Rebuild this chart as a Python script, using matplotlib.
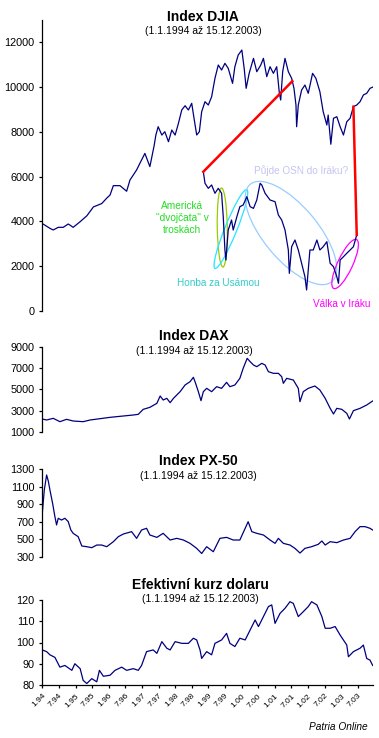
import numpy as np
import matplotlib
matplotlib.use('Agg')
import matplotlib.pyplot as plt
from matplotlib.patches import Ellipse
from matplotlib.transforms import ScaledTranslation

plt.rcParams['font.family'] = ['Liberation Sans', 'DejaVu Sans']

# ---------------- data (decimal years) ----------------
djia_t = [1994.00, 1994.04, 1994.23, 1994.33, 1994.48, 1994.63, 1994.78, 1994.83, 1994.93, 1995.14,
          1995.34, 1995.54, 1995.79, 1995.94, 1996.04, 1996.14, 1996.34, 1996.54, 1996.64, 1996.84,
          1996.94, 1997.09, 1997.24, 1997.37, 1997.42, 1997.49, 1997.60, 1997.69, 1997.80, 1997.90,
          1998.00, 1998.10, 1998.20, 1998.30, 1998.40, 1998.50, 1998.57, 1998.65, 1998.73, 1998.80,
          1998.90, 1999.00, 1999.10, 1999.20, 1999.30, 1999.40, 1999.50, 1999.60, 1999.73, 1999.80,
          1999.90, 2000.01, 2000.08, 2000.14, 2000.23, 2000.36, 2000.46, 2000.58, 2000.66, 2000.76,
          2000.86, 2000.96, 2001.06, 2001.14, 2001.18, 2001.24, 2001.31, 2001.41, 2001.51, 2001.58,
          2001.64, 2001.66, 2001.71, 2001.81, 2001.91, 2002.01, 2002.14, 2002.24, 2002.36, 2002.46,
          2002.57, 2002.61, 2002.69, 2002.77, 2002.87, 2002.97, 2003.07, 2003.17, 2003.27, 2003.37,
          2003.47, 2003.57, 2003.67, 2003.77, 2003.87, 2003.95]
djia_v = [3900, 3870, 3693, 3620, 3738, 3738, 3886, 3840, 3738, 3990,
          4250, 4650, 4800, 5040, 5180, 5600, 5600, 5350, 5850, 6300,
          6600, 7040, 6450, 7400, 7860, 8233, 7860, 8010, 7563, 8085,
          7860, 8384, 8979, 9171, 8979, 9278, 8608, 7862, 8010, 8903,
          9350, 9202, 9573, 10394, 10989, 10766, 11064, 10841, 10171, 10913,
          11435, 11659, 10841, 9948, 10617, 11287, 10691, 10989, 11287, 10469,
          10913, 10617, 10913, 9725, 9425, 10691, 11287, 10691, 10394, 9948,
          9202, 8233, 9202, 9872, 10095, 9725, 10617, 10394, 9796, 8903,
          8309, 8755, 7450, 8608, 8680, 8233, 7862, 8456, 8608, 9127,
          9202, 9350, 9650, 9725, 9948, 10000]

# magnified DJIA detail drawn inside the DJIA panel (axis units)
inset_t = [1998.85, 1998.90, 1999.00, 1999.10, 1999.20, 1999.30, 1999.40, 1999.45, 1999.50, 1999.53,
           1999.60, 1999.70, 1999.75, 1999.86, 1999.95, 2000.05, 2000.16, 2000.26, 2000.36, 2000.46,
           2000.56, 2000.61, 2000.71, 2000.86, 2001.01, 2001.11, 2001.21, 2001.31, 2001.41, 2001.44,
           2001.51, 2001.61, 2001.71, 2001.81, 2001.91, 2001.96, 2002.06, 2002.16, 2002.27, 2002.36,
           2002.46, 2002.57, 2002.67, 2002.77, 2002.87, 2002.92, 2002.97, 2003.07, 2003.17, 2003.27,
           2003.37, 2003.47]
inset_v = [6222, 5704, 5480, 5630, 5258, 5480, 5258, 4212, 2725, 2278,
           3618, 4065, 3618, 4212, 4659, 4735, 5106, 4659, 4585, 4958,
           5704, 5630, 5258, 4958, 4883, 4288, 4065, 3618, 2725, 1683,
           2872, 3172, 2725, 2131, 1532, 938, 2725, 2725, 3172, 2725,
           2872, 3096, 2131, 1979, 1532, 1237, 2278, 2425, 2578, 2725,
           2872, 3395]
# dates of the main DJIA series that the detail's start / end correspond to
inset_src_dates = [2001.53, 2003.37]

dax_t = [1994.00, 1994.13, 1994.33, 1994.53, 1994.73, 1994.93, 1995.23, 1995.44, 1996.04, 1996.74,
         1996.89, 1997.04, 1997.24, 1997.45, 1997.55, 1997.64, 1997.75, 1997.85, 1997.95, 1998.15,
         1998.30, 1998.45, 1998.55, 1998.60, 1998.70, 1998.78, 1998.85, 1998.95, 1999.10, 1999.25,
         1999.40, 1999.55, 1999.65, 1999.80, 1999.95, 2000.05, 2000.17, 2000.26, 2000.36, 2000.46,
         2000.61, 2000.71, 2000.81, 2000.96, 2001.11, 2001.21, 2001.26, 2001.36, 2001.56, 2001.71,
         2001.76, 2001.86, 2002.01, 2002.21, 2002.36, 2002.52, 2002.67, 2002.77, 2002.87, 2003.02,
         2003.17, 2003.25, 2003.37, 2003.57, 2003.77, 2003.95]
dax_v = [2223, 2130, 2286, 1972, 2192, 2035, 1972, 2130, 2380, 2600,
         2662, 3133, 3321, 3697, 4388, 4011, 4168, 3760, 4168, 4795,
         5423, 5737, 6145, 5737, 4795, 3948, 4795, 5109, 4795, 5266,
         5109, 5674, 5266, 5423, 6050, 6992, 7933, 7619, 7305, 7148,
         7462, 7305, 6678, 6521, 6521, 6207, 5580, 6050, 5893, 5109,
         3855, 4795, 5109, 5329, 4952, 4168, 3227, 2694, 3227, 3133,
         2756, 2223, 3007, 3227, 3541, 3917]

px_t = [1994.00, 1994.06, 1994.13, 1994.18, 1994.23, 1994.31, 1994.38, 1994.43, 1994.48, 1994.58,
        1994.68, 1994.78, 1994.86, 1994.93, 1995.08, 1995.19, 1995.34, 1995.49, 1995.64, 1995.79,
        1995.94, 1996.14, 1996.29, 1996.44, 1996.69, 1996.84, 1996.99, 1997.14, 1997.24, 1997.45,
        1997.64, 1997.85, 1998.05, 1998.25, 1998.45, 1998.65, 1998.80, 1998.95, 1999.15, 1999.35,
        1999.55, 1999.75, 1999.95, 2000.11, 2000.20, 2000.31, 2000.46, 2000.66, 2000.86, 2001.01,
        2001.11, 2001.26, 2001.46, 2001.61, 2001.76, 2001.91, 2002.11, 2002.31, 2002.42, 2002.52,
        2002.67, 2002.87, 2003.07, 2003.27, 2003.42, 2003.57, 2003.72, 2003.87, 2003.95]
px_v = [800, 1061, 1232, 1164, 1061, 910, 758, 664, 740, 720,
        740, 703, 607, 569, 531, 425, 417, 406, 436, 436,
        417, 474, 531, 561, 588, 512, 607, 626, 550, 523,
        569, 493, 512, 493, 455, 398, 340, 417, 360, 512,
        523, 493, 493, 626, 701, 588, 569, 550, 493, 455,
        512, 455, 436, 398, 345, 398, 417, 444, 482, 436,
        474, 463, 493, 512, 588, 645, 645, 626, 607]

usd_t = [1994.00, 1994.13, 1994.23, 1994.38, 1994.53, 1994.68, 1994.89, 1994.98, 1995.14, 1995.23,
         1995.34, 1995.49, 1995.64, 1995.72, 1995.84, 1996.04, 1996.19, 1996.39, 1996.54, 1996.74,
         1996.89, 1996.99, 1997.14, 1997.34, 1997.45, 1997.60, 1997.75, 1997.85, 1998.00, 1998.20,
         1998.40, 1998.55, 1998.65, 1998.75, 1998.80, 1998.95, 1999.10, 1999.20, 1999.40, 1999.55,
         1999.65, 1999.80, 1999.95, 2000.11, 2000.26, 2000.41, 2000.51, 2000.66, 2000.81, 2000.91,
         2001.01, 2001.16, 2001.31, 2001.46, 2001.56, 2001.71, 2001.86, 2002.01, 2002.11, 2002.27,
         2002.42, 2002.52, 2002.67, 2002.82, 2002.97, 2003.17, 2003.22, 2003.37, 2003.57, 2003.67,
         2003.77, 2003.87, 2003.95]
usd_v = [96.5, 95.7, 94.2, 93.0, 88.4, 89.2, 86.9, 90.0, 87.7, 82.2,
         80.7, 83.0, 81.5, 86.9, 84.1, 84.6, 86.9, 88.4, 86.9, 87.7,
         86.9, 89.2, 95.7, 96.5, 94.9, 100.4, 97.3, 96.5, 100.4, 99.6,
         99.6, 102.0, 101.2, 96.5, 92.5, 95.7, 94.2, 99.6, 101.2, 104.3,
         99.6, 98.1, 102.0, 101.2, 105.9, 110.6, 107.5, 112.2, 116.9, 117.7,
         109.0, 113.7, 116.1, 119.2, 118.4, 112.2, 114.5, 116.9, 119.2, 117.7,
         112.2, 106.7, 106.7, 107.5, 103.5, 98.8, 93.3, 95.7, 97.3, 98.8,
         92.5, 91.7, 89.2]

x_labels = ['1.94', '7.94', '1.95', '7.95', '1.96', '7.96', '1.97', '7.97', '1.98', '7.98',
            '1.99', '7.99', '1.00', '7.00', '1.01', '7.01', '1.02', '7.02', '1.03', '7.03']

titles = ['Index DJIA', 'Index DAX', 'Index PX-50', 'Efektivní kurz dolaru']
subtitle = '(1.1.1994 až 15.12.2003)'

# ---------------- figure ----------------
W, H = 379, 738
fig = plt.figure(figsize=(W / 100, H / 100), dpi=100)
fig.patch.set_facecolor('white')

def add_ax(x0, x1, ytop, ybot):
    return fig.add_axes([x0 / W, 1 - ybot / H, (x1 - x0) / W, (ybot - ytop) / H])

NAVY = '#000080'
XLIM = (1994.0, 2003.96)

def style(ax, ylim, yticks, show_x=False):
    ax.set_xlim(*XLIM)
    ax.set_ylim(*ylim)
    ax.set_yticks(yticks)
    for s in ['top', 'right']:
        ax.spines[s].set_visible(False)
    ax.spines['bottom'].set_visible(show_x)
    ax.spines['left'].set_linewidth(0.9)
    ax.tick_params(axis='y', direction='out', length=2.3, width=0.9, labelsize=7.8, pad=3.2)
    if not show_x:
        ax.set_xticks([])
    ax.patch.set_alpha(0)

# DJIA
ax1 = add_ax(42.3, 373, 20, 311)
style(ax1, (0, 13000), np.arange(0, 12001, 2000))
ax1.plot(djia_t, djia_v, color=NAVY, lw=0.9)
ax1.plot(inset_t, inset_v, color=NAVY, lw=0.9)
src_vals = np.interp(inset_src_dates, djia_t, djia_v)
ax1.plot([inset_t[0], inset_src_dates[0]], [inset_v[0], src_vals[0]], color='#FF0000', lw=1.8)
ax1.plot([inset_t[-1], inset_src_dates[1]], [inset_v[-1], src_vals[1]], color='#FF0000', lw=1.8)

# ellipses drawn in pixel size at data-centred positions
ellipses = [  # (center year, center value, width px, height px, angle, color)
    (1999.42, 3730, 79, 10, 91, '#99CC00'),
    (1999.68, 3663, 85, 12, 68, '#22E6FF'),
    (2001.49, 3484, 127, 54, -50, '#99CCFF'),
    (2003.12, 2100, 54, 15, 65, '#FF00FF'),
]
for cx, cy, w, h, ang, col in ellipses:
    tr = fig.dpi_scale_trans + ScaledTranslation(cx, cy, ax1.transData)
    ax1.add_patch(Ellipse((0, 0), w / 100, h / 100, angle=ang, transform=tr,
                          fill=False, edgecolor=col, lw=0.9, clip_on=False))

ax1.text(1998.21, 4155, 'Americká\n"dvojčata" v\ntroskách', color='#22DD22', fontsize=7.3,
         ha='center', va='center', linespacing=1.3)
ax1.text(1999.31, 1251, 'Honba za Usámou', color='#33CCCC', fontsize=7.2, ha='center', va='center')
ax1.text(2001.78, 6267, 'Půjde OSN do Iráku?', color='#C4C4F0', fontsize=7.2, ha='center', va='center')
ax1.text(2003.02, 313, 'Válka v Iráku', color='#FF00FF', fontsize=7.2, ha='center', va='center')

# DAX
ax2 = add_ax(42.3, 373, 347, 432)
style(ax2, (1000, 9000), np.arange(1000, 9001, 2000))
ax2.plot(dax_t, dax_v, color=NAVY, lw=0.9)

# PX-50
ax3 = add_ax(42.3, 373, 469, 557)
style(ax3, (300, 1300), np.arange(300, 1301, 200))
ax3.plot(px_t, px_v, color=NAVY, lw=0.9)

# Dollar
ax4 = add_ax(42.3, 373, 600, 685)
style(ax4, (80, 120), np.arange(80, 121, 10), show_x=True)
ax4.plot(usd_t, usd_v, color=NAVY, lw=0.9)
ax4.spines['bottom'].set_linewidth(0.9)
ax4.set_xticks([1994 + 0.5 * i for i in range(len(x_labels))])
ax4.set_xticklabels(x_labels, rotation=45, ha='right', va='top', rotation_mode='anchor', fontsize=6)
ax4.tick_params(axis='x', direction='out', length=2.3, width=0.9, pad=3)

# titles
title_pos = [(203, 17, 31), (194, 336, 351), (198, 461, 476), (200, 585, 599)]
for t, (cx, ty, sy) in zip(titles, title_pos):
    fig.text(cx / W, 1 - ty / H, t, ha='center', va='center', fontsize=10, fontweight='bold')
    fig.text(cx / W, 1 - sy / H, subtitle, ha='center', va='center', fontsize=7.5)

fig.text(338 / W, 1 - 727 / H, 'Patria Online', ha='center', va='center', fontsize=7.3, style='italic')

fig.savefig('out.png', dpi=100)
